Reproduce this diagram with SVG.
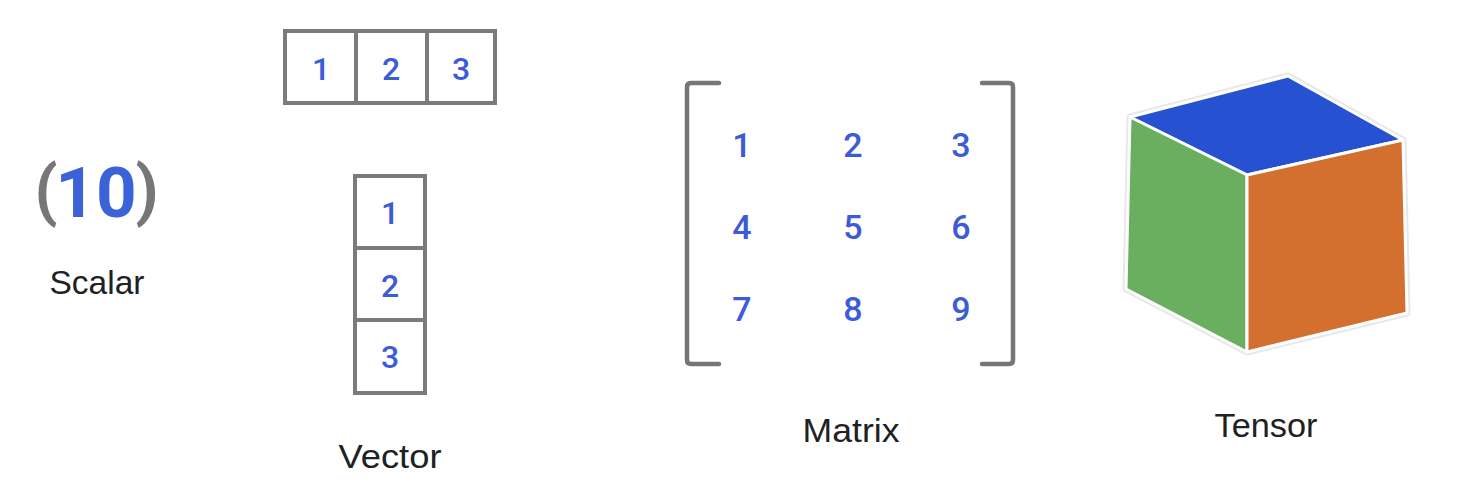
<svg xmlns="http://www.w3.org/2000/svg" width="1468" height="504" viewBox="0 0 1468 504">
<style>
.lbl{font-family:"Liberation Sans",Arial,sans-serif;font-size:34px;fill:#202124;text-anchor:middle}
.num{font-family:Roboto,"Liberation Sans",sans-serif;font-weight:500;fill:#3b5bd8;text-anchor:middle}
.par{font-family:Roboto,"Liberation Sans",sans-serif;font-weight:700;font-size:66px;fill:#777777;text-anchor:middle}
.box{fill:none;stroke:#7b7b7b;stroke-width:4}
.brk{fill:none;stroke:#767676;stroke-width:4.5;stroke-linecap:round;stroke-linejoin:round}
.face{stroke:#ffffff;stroke-width:3;stroke-linejoin:round}
</style>
<rect width="1468" height="504" fill="#ffffff"/>
<g id="scalar">
  <text class="par" x="46" y="213">(</text>
  <text x="96" y="217" font-family="Roboto,'Liberation Sans',sans-serif" font-size="71" font-weight="700" fill="#3b62d9" text-anchor="middle">10</text>
  <text class="par" x="147" y="213">)</text>
  <text class="lbl" x="97" y="294" textLength="95" lengthAdjust="spacingAndGlyphs">Scalar</text>
</g>
<g id="vector">
  <g id="row-vector">
    <rect class="box" x="285" y="31" width="210" height="72"/>
    <line class="box" x1="356" y1="31" x2="356" y2="103"/>
    <line class="box" x1="427" y1="31" x2="427" y2="103"/>
    <text class="num" x="321" y="80" font-size="32">1</text>
    <text class="num" x="391" y="80" font-size="32">2</text>
    <text class="num" x="461" y="80" font-size="32">3</text>
  </g>
  <g id="column-vector">
    <rect class="box" x="355" y="176" width="70" height="217"/>
    <line class="box" x1="355" y1="248" x2="425" y2="248"/>
    <line class="box" x1="355" y1="320" x2="425" y2="320"/>
    <text class="num" x="390" y="224" font-size="32">1</text>
    <text class="num" x="390" y="297" font-size="32">2</text>
    <text class="num" x="390" y="368" font-size="32">3</text>
  </g>
  <text class="lbl" x="390" y="468" textLength="103" lengthAdjust="spacingAndGlyphs">Vector</text>
</g>
<g id="matrix">
  <path class="brk" d="M719,83 L691,83 Q687,83 687,87 L687,360 Q687,364 691,364 L719,364"/>
  <path class="brk" d="M982,83 L1009,83 Q1013,83 1013,87 L1013,360 Q1013,364 1009,364 L982,364"/>
  <g font-size="34">
    <text class="num" x="742" y="157">1</text>
    <text class="num" x="853" y="157">2</text>
    <text class="num" x="961" y="157">3</text>
    <text class="num" x="742" y="239">4</text>
    <text class="num" x="853" y="239">5</text>
    <text class="num" x="961" y="239">6</text>
    <text class="num" x="742" y="321">7</text>
    <text class="num" x="853" y="321">8</text>
    <text class="num" x="961" y="321">9</text>
  </g>
  <text class="lbl" x="851" y="442" textLength="97" lengthAdjust="spacingAndGlyphs">Matrix</text>
</g>
<g id="tensor">
  <path d="M1130,117 L1288,76 L1403,140 L1407,313 L1247,352 L1126,289 Z" fill="none" stroke="#e8e8e8" stroke-width="7" stroke-linejoin="round"/>
  <polygon class="face" points="1130,117 1288,76 1403,140 1247,175" fill="#2651d1"/>
  <polygon class="face" points="1130,117 1247,175 1247,352 1126,289" fill="#6aae5f"/>
  <polygon class="face" points="1247,175 1403,140 1407,313 1247,352" fill="#d3702f"/>
  <text class="lbl" x="1266" y="437" textLength="103" lengthAdjust="spacingAndGlyphs">Tensor</text>
</g>
<g id="connectors"/>
</svg>
